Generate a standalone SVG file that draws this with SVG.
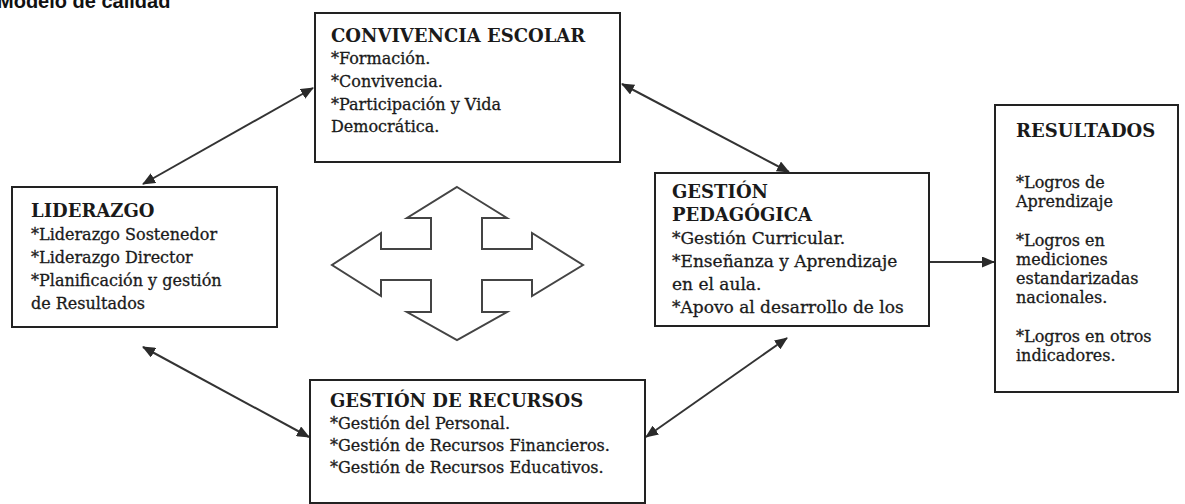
<svg xmlns="http://www.w3.org/2000/svg" width="1185" height="504" viewBox="0 0 1185 504">
<style>
.box{fill:#fff;stroke:#222;stroke-width:2}
.t{font-family:"DejaVu Serif","Liberation Serif",serif;font-weight:bold;font-size:18px;fill:#1a1a1a}
.b{font-family:"DejaVu Serif","Liberation Serif",serif;font-size:16px;fill:#1a1a1a;stroke:#1a1a1a;stroke-width:0.3}
.p{font-size:17px}
.c{fill:none;stroke:#333;stroke-width:2}
.cross{fill:#fff;stroke:#444;stroke-width:2;stroke-linejoin:miter}
.hdr{font-family:"Liberation Sans",Arial,sans-serif;font-weight:bold;font-size:20px;fill:#111}
</style>
<defs>
<marker id="ah" viewBox="0 0 13 11" refX="12" refY="5.5" markerWidth="13" markerHeight="11" markerUnits="userSpaceOnUse" orient="auto-start-reverse">
<path d="M0,0 L13,5.5 L0,11 Z" fill="#2a2a2a"/>
</marker>
</defs>
<rect width="1185" height="504" fill="#fff"/>
<text class="hdr" x="-3" y="8">Modelo de calidad</text>

<g id="connectors">
<line class="c" x1="143" y1="184" x2="313" y2="88" marker-start="url(#ah)" marker-end="url(#ah)"/>
<line class="c" x1="622" y1="84" x2="789" y2="172" marker-start="url(#ah)" marker-end="url(#ah)"/>
<line class="c" x1="143" y1="347" x2="309" y2="437" marker-start="url(#ah)" marker-end="url(#ah)"/>
<line class="c" x1="787" y1="338" x2="646" y2="437" marker-start="url(#ah)" marker-end="url(#ah)"/>
<line class="c" x1="930" y1="262" x2="994" y2="262" marker-end="url(#ah)"/>
</g>

<g id="cross">
<polygon class="cross" points="457,187 507,218 482,218 482,249 532,249 532,233 583,265 532,296 532,280 482,280 482,312 507,312 457,340 407,312 431,312 431,280 381,280 381,296 332,265 381,233 381,249 431,249 431,218 407,218"/>
</g>

<g id="convivencia">
<rect class="box" x="315" y="13" width="305" height="149"/>
<text class="t" x="331" y="42">CONVIVENCIA ESCOLAR</text>
<text class="b" x="331" y="64">*Formación.</text>
<text class="b" x="331" y="87">*Convivencia.</text>
<text class="b" x="331" y="110">*Participación y Vida</text>
<text class="b" x="331" y="132">Democrática.</text>
</g>

<g id="liderazgo">
<rect class="box" x="12" y="187" width="265" height="140"/>
<text class="t" x="31" y="217">LIDERAZGO</text>
<text class="b" x="31" y="240">*Liderazgo Sostenedor</text>
<text class="b" x="31" y="263">*Liderazgo Director</text>
<text class="b" x="31" y="286">*Planificación y gestión</text>
<text class="b" x="31" y="309">de Resultados</text>
</g>

<g id="pedagogica">
<rect class="box" x="655" y="173" width="274" height="153"/>
<text class="t" x="672" y="198">GESTIÓN</text>
<text class="t" x="672" y="221">PEDAGÓGICA</text>
<text class="b p" x="672" y="244">*Gestión Curricular.</text>
<text class="b p" x="672" y="267">*Enseñanza y Aprendizaje</text>
<text class="b p" x="672" y="290">en el aula.</text>
<text class="b p" x="672" y="313">*Apovo al desarrollo de los</text>
</g>

<g id="resultados">
<rect class="box" x="995" y="105" width="183" height="287"/>
<text class="t" x="1016" y="137">RESULTADOS</text>
<text class="b" x="1016" y="188">*Logros de</text>
<text class="b" x="1016" y="207">Aprendizaje</text>
<text class="b" x="1016" y="246">*Logros en</text>
<text class="b" x="1016" y="265">mediciones</text>
<text class="b" x="1016" y="284">estandarizadas</text>
<text class="b" x="1016" y="303">nacionales.</text>
<text class="b" x="1016" y="342">*Logros en otros</text>
<text class="b" x="1016" y="361">indicadores.</text>
</g>

<g id="recursos">
<rect class="box" x="310" y="380" width="335" height="123"/>
<text class="t" x="330" y="407">GESTIÓN DE RECURSOS</text>
<text class="b" x="330" y="429">*Gestión del Personal.</text>
<text class="b" x="330" y="451">*Gestión de Recursos Financieros.</text>
<text class="b" x="330" y="473">*Gestión de Recursos Educativos.</text>
</g>
</svg>
